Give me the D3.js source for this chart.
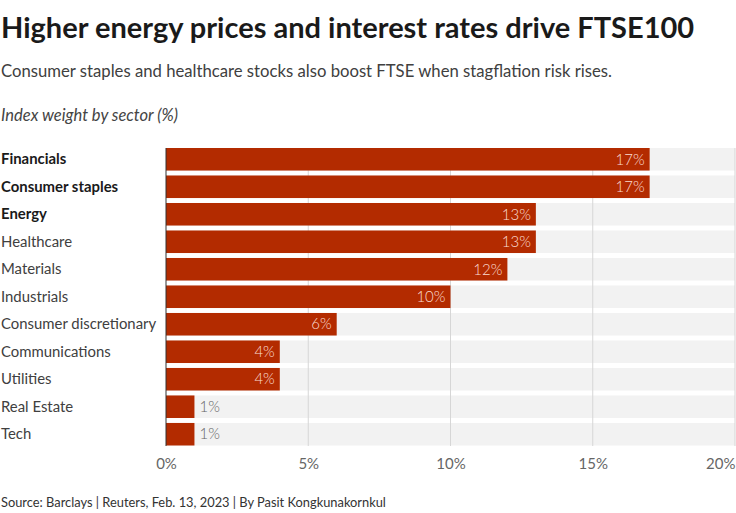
<!DOCTYPE html>
<html><head><meta charset="utf-8">
<script src="https://cdn.jsdelivr.net/npm/d3@7"></script>
<style>
body{margin:0;background:#fff;}
svg{display:block;font-family:Lato,"Noto Sans",sans-serif;}
</style></head>
<body><svg id="c" width="736" height="513"></svg>
<script>
const categories = ["Financials","Consumer staples","Energy","Healthcare","Materials","Industrials","Consumer discretionary","Communications","Utilities","Real Estate","Tech"];
const values = [17,17,13,13,12,10,6,4,4,1,1];
const highlighted = ["Financials","Consumer staples","Energy"];
const xTicks = [0,5,10,15,20];
const title = "Higher energy prices and interest rates drive FTSE100";
const subtitle = "Consumer staples and healthcare stocks also boost FTSE when stagflation risk rises.";
const axisTitle = "Index weight by sector (%)";
const source = "Source: Barclays | Reuters, Feb. 13, 2023 | By Pasit Kongkunakornkul";

const data = categories.map((c,i)=>({c, v: values[i]}));
const svg = d3.select("#c");
const x = d3.scaleLinear().domain([0,20]).range([166,735]);
const y = d3.scaleBand().domain(categories).range([148,445.5]).paddingInner(0.18).paddingOuter(0).align(0);

svg.append("text").attr("x",1).attr("y",38).attr("font-size",29).attr("font-weight",700).attr("fill","#1a1a1a").text(title);
svg.append("text").attr("x",1).attr("y",77).attr("font-size",16.7).attr("fill","#404040").text(subtitle);
svg.append("text").attr("x",1).attr("y",121).attr("font-size",16.5).attr("font-style","italic").attr("font-weight",400).attr("fill","#444").text(axisTitle);

// background rows
svg.append("g").selectAll("rect").data(data).join("rect")
  .attr("x",x(0)).attr("y",d=>y(d.c)).attr("width",x(20)-x(0)).attr("height",y.bandwidth()).attr("fill","#f2f2f2");
// grid
svg.append("g").selectAll("line").data(xTicks.slice(1)).join("line")
  .attr("x1",d=>x(d)).attr("x2",d=>x(d)).attr("y1",148).attr("y2",446)
  .attr("stroke","#d6d6d6").attr("stroke-width",1);
// bars
svg.append("g").selectAll("rect").data(data).join("rect")
  .attr("x",x(0)).attr("y",d=>y(d.c)).attr("width",d=>x(d.v)-x(0)).attr("height",y.bandwidth()).attr("fill","#b32b00");
// baseline
svg.append("line").attr("x1",x(0)).attr("x2",x(0)).attr("y1",148).attr("y2",446).attr("stroke","#333").attr("stroke-width",1);

// value labels
svg.append("g").selectAll("text").data(data).join("text")
  .attr("x",d=> d.v>=3 ? x(d.v)-5 : x(d.v)+5)
  .attr("y",d=>y(d.c)+y.bandwidth()/2)
  .attr("dy","0.35em")
  .attr("text-anchor",d=> d.v>=3 ? "end":"start")
  .attr("font-size",15).attr("font-weight",300)
  .attr("fill",d=> d.v>=3 ? "#fbdcd2":"#666")
  .text(d=>d.v+"%");

// category labels
svg.append("g").selectAll("text").data(data).join("text")
  .attr("x",1).attr("y",d=>y(d.c)+y.bandwidth()/2).attr("dy","0.35em")
  .attr("font-size",14.9)
  .attr("font-weight",d=>highlighted.includes(d.c)?700:400)
  .attr("fill",d=>highlighted.includes(d.c)?"#1a1a1a":"#404040")
  .text(d=>d.c);

// x axis labels
const ax = svg.append("g").attr("transform","translate(0,446)")
  .call(d3.axisBottom(x).tickValues(xTicks).tickFormat(d=>d+"%").tickSize(0).tickPadding(12));
ax.select(".domain").remove();
ax.selectAll("text").attr("font-size",15).attr("font-family","Lato").attr("font-weight",400).attr("fill","#666");
ax.selectAll(".tick text").filter(d=>d===20).attr("text-anchor","end");

svg.append("text").attr("x",1).attr("y",507).attr("font-size",12.85).attr("fill","#333").text(source);
</script></body></html>
